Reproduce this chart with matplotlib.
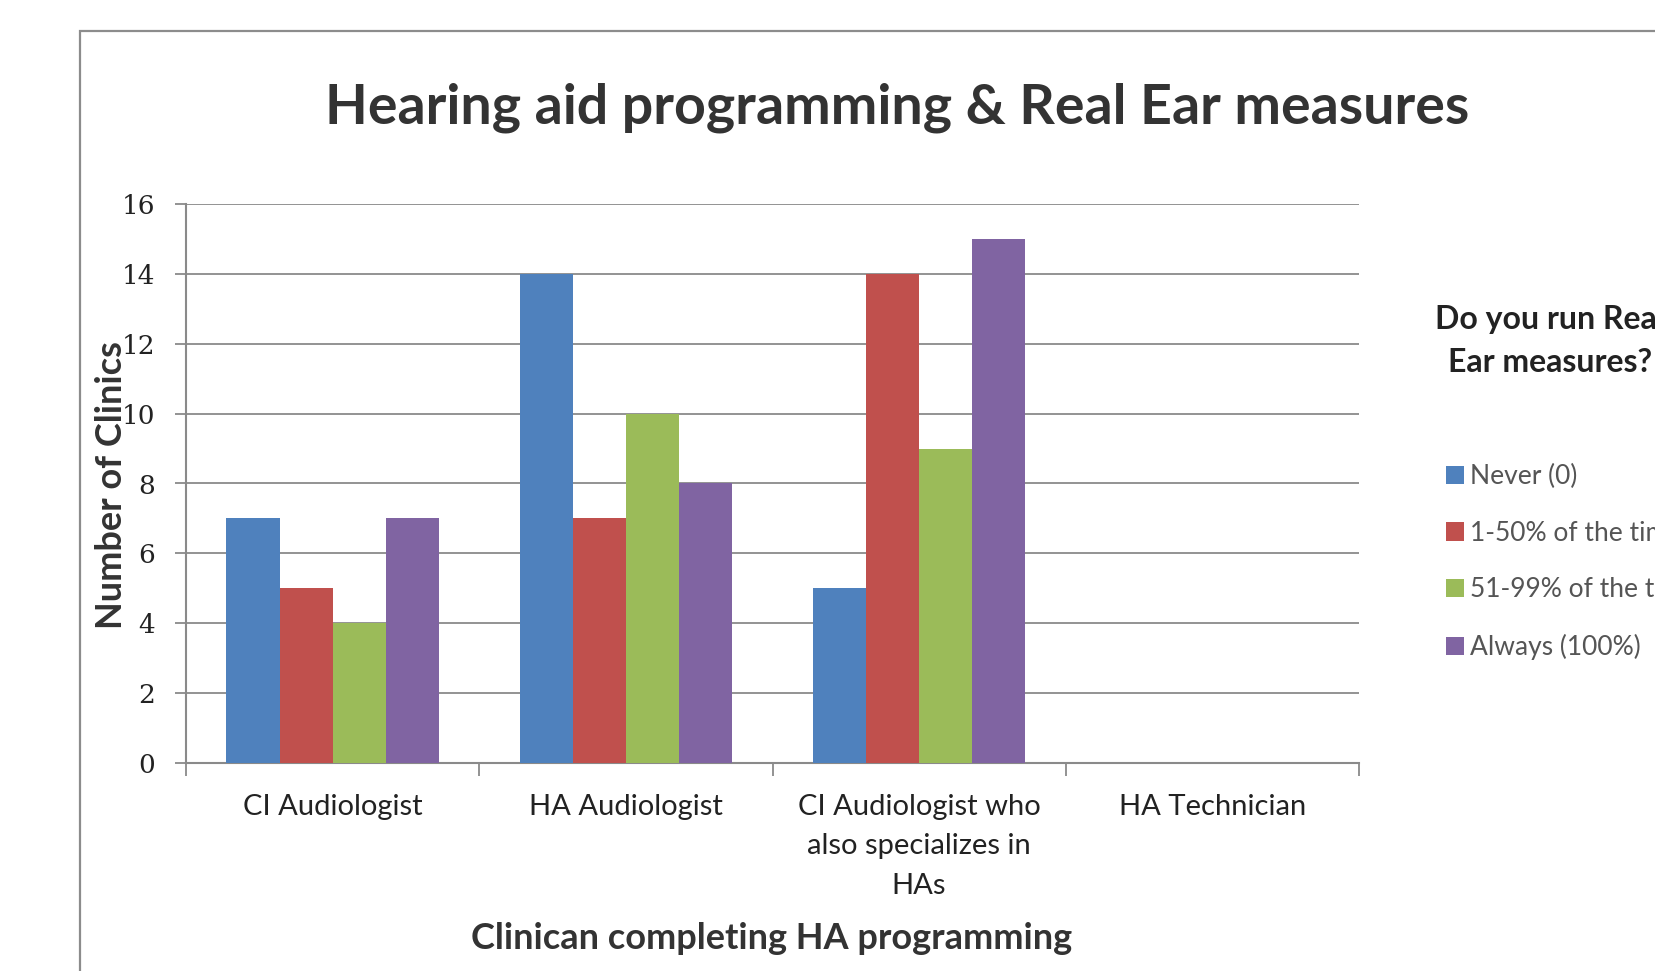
import matplotlib
matplotlib.use("Agg")
import matplotlib.pyplot as plt
import numpy as np
from matplotlib.patches import Rectangle

# ---- data ----
categories = ["CI Audiologist", "HA Audiologist",
              "CI Audiologist who\nalso specializes in\nHAs", "HA Technician"]
series_names = ["Never (0)", "1-50% of the time", "51-99% of the time", "Always (100%)"]
never = [7, 14, 5, 0]
some = [5, 7, 14, 0]
most = [4, 10, 9, 0]
always = [7, 8, 15, 0]
y_ticks = [0, 2, 4, 6, 8, 10, 12, 14, 16]
colors = ["#4F81BD", "#C0504D", "#9BBB59", "#8064A2"]

W, H = 1655, 971
fig = plt.figure(figsize=(W / 100, H / 100), dpi=100)
fig.patch.set_facecolor("white")

# outer chart frame (extends past the figure edges, as in the cropped reference)
frame = Rectangle((80 / W, -0.2), 1.2, 1 - 31 / H + 0.2, transform=fig.transFigure,
                  fill=False, edgecolor="#8c8c8c", linewidth=1.6, clip_on=False)
fig.patches.append(frame)

ax_l, ax_r, ax_t, ax_b = 186, 1359, 204, 763
ax = fig.add_axes([ax_l / W, 1 - ax_b / H, (ax_r - ax_l) / W, (ax_b - ax_t) / H])

x = np.arange(len(categories))
bw = 0.181
series = [never, some, most, always]
bars = []
for i, (vals, c, name) in enumerate(zip(series, colors, series_names)):
    b = ax.bar(x + (i - 1.5) * bw, vals, width=bw, color=c, label=name, zorder=3)
    bars.append(b)

ax.set_xlim(-0.5, len(categories) - 0.5)
ax.set_ylim(0, 16)
ax.set_yticks(y_ticks)
ax.set_yticklabels([str(v) for v in y_ticks], family="DejaVu Serif", fontsize=19, color="#222222")
ax.yaxis.grid(True, color="#8a8a8a", linewidth=1.3, zorder=0)
ax.set_axisbelow(True)

ax.set_xticks(x)
ax.set_xticklabels(categories, family="Lato", fontsize=21, color="#222222", linespacing=1.65)
ax.set_xticks(np.arange(-0.5, len(categories), 1.0), minor=True)
ax.tick_params(axis="x", which="major", length=0, pad=22)
ax.tick_params(axis="x", which="minor", length=9, width=1.3, color="#8a8a8a", direction="out")
ax.tick_params(axis="y", length=8, width=1.3, color="#8a8a8a", direction="out", pad=14)

for s in ["top", "right"]:
    ax.spines[s].set_visible(False)
for s in ["left", "bottom"]:
    ax.spines[s].set_color("#8a8a8a")
    ax.spines[s].set_linewidth(1.5)

# title
fig.text(897 / W, 1 - 108 / H, "Hearing aid programming & Real Ear measures",
         ha="center", va="center", family="Lato", fontweight="bold", fontsize=40, color="#333333")
# axis labels
fig.text(772 / W, 1 - 938 / H, "Clinican completing HA programming",
         ha="center", va="center", family="Lato", fontweight="bold", fontsize=26, color="#333333")
fig.text(112 / W, 1 - 485 / H, "Number of Clinics", rotation=90,
         ha="center", va="center", family="Lato", fontweight="bold", fontsize=26, color="#333333")

# legend title
fig.text(1550 / W, 1 - 341 / H, "Do you run Real\nEar measures?", ha="center", va="center",
         multialignment="center", family="Lato", fontweight="bold", fontsize=23,
         color="#222222", linespacing=1.55)

leg = fig.legend(handles=bars, labels=series_names, loc="upper left",
                 bbox_to_anchor=(1446 / W, 1 - 464 / H), frameon=False,
                 prop={"family": "Lato", "size": 19}, handlelength=0.7, handleheight=0.7,
                 handletextpad=0.2, labelspacing=1.2, borderpad=0, borderaxespad=0)
for t in leg.get_texts():
    t.set_color("#555555")

fig.savefig("out.png", dpi=100)
